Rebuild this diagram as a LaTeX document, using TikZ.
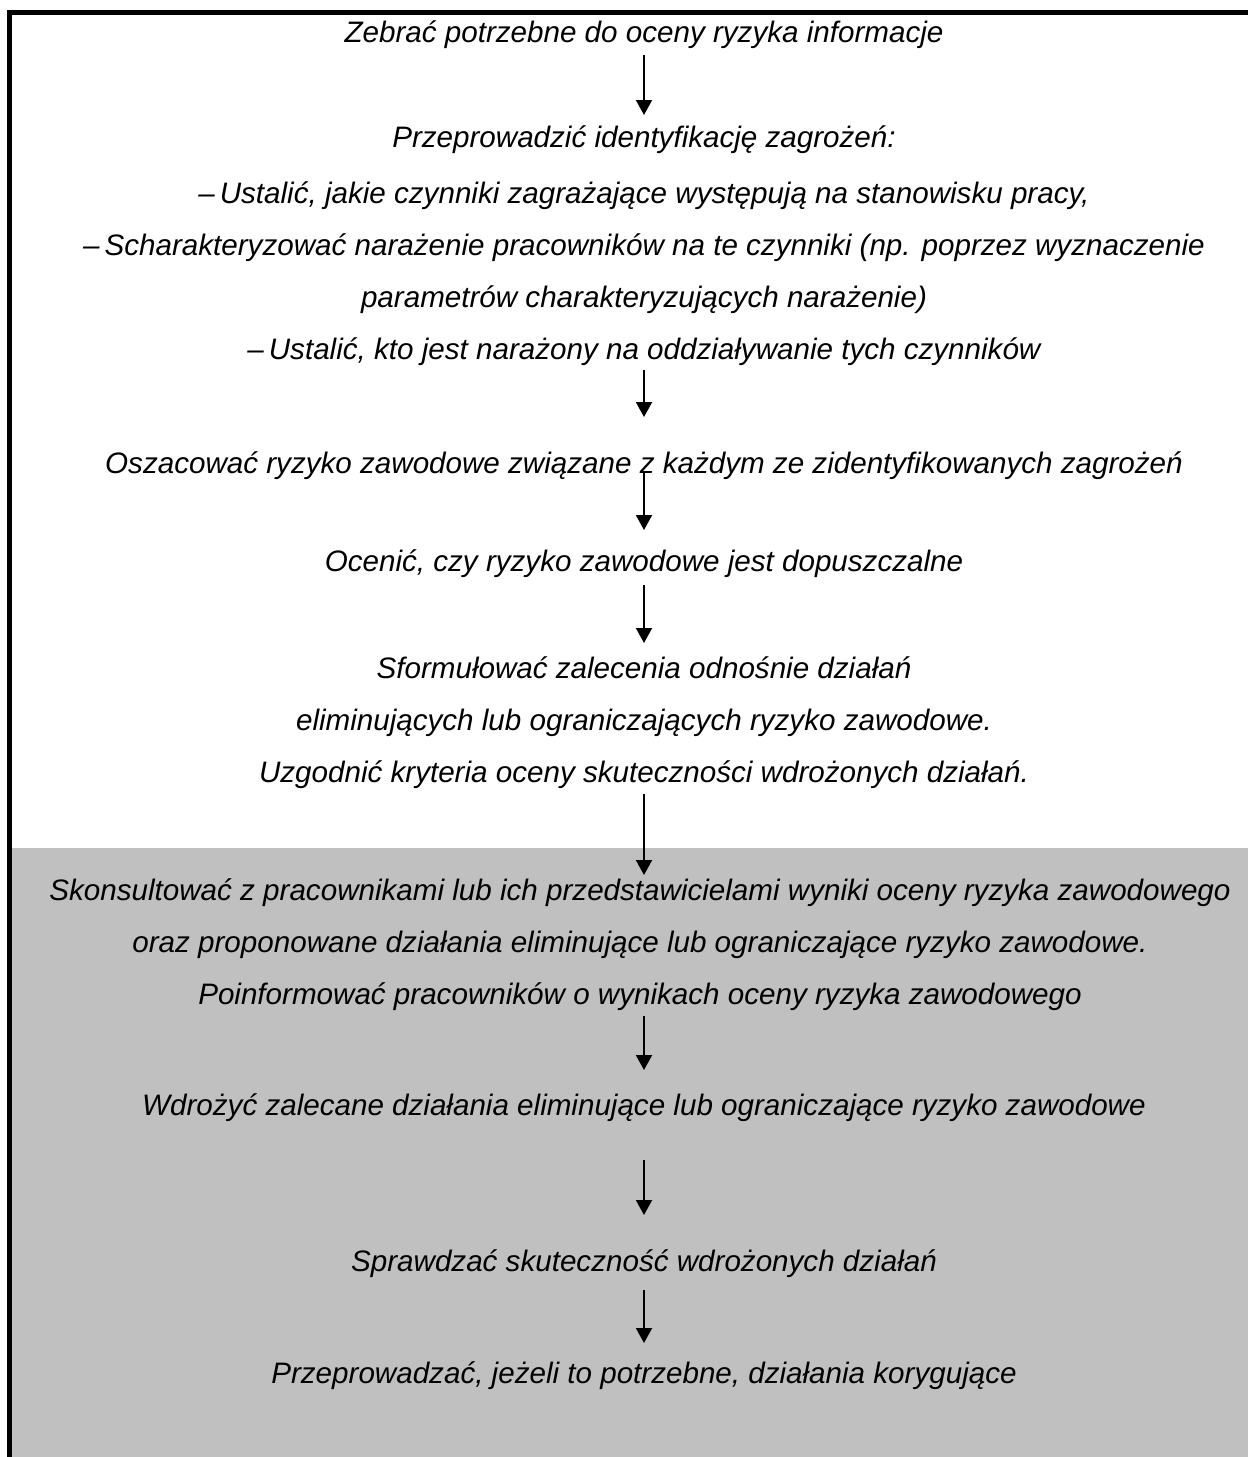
\documentclass[tikz,border=0pt]{standalone}
\usepackage{fontspec}
\setmainfont{Liberation Sans}
\usetikzlibrary{arrows.meta}
\definecolor{boxgray}{RGB}{192,192,192}
\begin{document}
\begin{tikzpicture}[x=1pt,y=-1pt,
    stage/.style={anchor=north,align=center,inner sep=0pt,
      font=\itshape\fontsize{29.6}{52}\selectfont,
      execute at begin node=\strut,execute at end node=\strut},
    arr/.style={-{Triangle[width=16pt,length=15pt]},line width=2pt}]
  \useasboundingbox (0,0) rectangle (1248,1457);
  \fill [boxgray] (12,848) rectangle (1248,1457);
  \draw [line width=5pt] (1248,12.5) -- (9.5,12.5) -- (9.5,1457);
  \node [stage] (collect) at (644,5.6) {Zebrać potrzebne do oceny ryzyka informacje};
  \node [stage] (identify) at (644,125.6) {Przeprowadzić identyfikację zagrożeń:\\[4pt]
    –\,Ustalić, jakie czynniki zagrażające występują na stanowisku pracy,\\
    –\,Scharakteryzować narażenie pracowników na te czynniki (np. poprzez wyznaczenie\\
    parametrów charakteryzujących narażenie)\\
    –\,Ustalić, kto jest narażony na oddziaływanie tych czynników};
  \node [stage] (estimate) at (644,436.6) {Oszacować ryzyko zawodowe związane z każdym ze zidentyfikowanych zagrożeń};
  \node [stage] (assess) at (644,534.6) {Ocenić, czy ryzyko zawodowe jest dopuszczalne};
  \node [stage] (recommend) at (644,656.6) {Sformułować zalecenia odnośnie działań\\
    eliminujących lub ograniczających ryzyko zawodowe.\\
    Uzgodnić kryteria oceny skuteczności wdrożonych działań.};
  \node [stage] (consult) at (640,878.6) {Skonsultować z pracownikami lub ich przedstawicielami wyniki oceny ryzyka zawodowego\\
    oraz proponowane działania eliminujące lub ograniczające ryzyko zawodowe.\\
    Poinformować pracowników o wynikach oceny ryzyka zawodowego};
  \node [stage] (implement) at (644,1078.6) {Wdrożyć zalecane działania eliminujące lub ograniczające ryzyko zawodowe};
  \node [stage] (verify) at (644,1234.6) {Sprawdzać skuteczność wdrożonych działań};
  \node [stage] (correct) at (644,1346.6) {Przeprowadzać, jeżeli to potrzebne, działania korygujące};
  \draw [arr] ([yshift=2.6pt]collect.south) -- ([yshift=10.6pt]identify.north);
  \draw [arr] ([yshift=5pt]identify.south) -- ([yshift=19.6pt]estimate.north);
  \draw [arr] ([yshift=16.6pt]estimate.south) -- ([yshift=4.6pt]assess.north);
  \draw [arr] ([yshift=1.6pt]assess.south) -- ([yshift=13.6pt]recommend.north);
  \draw [arr] ([yshift=4pt]recommend.south) -- ([yshift=3.6pt,xshift=4pt]consult.north);
  \draw [arr] ([yshift=4pt,xshift=4pt]consult.south) -- ([yshift=8.6pt]implement.north);
  \draw [arr] ([yshift=-29.4pt]implement.south) -- ([yshift=19.6pt]verify.north);
  \draw [arr] ([yshift=-3.4pt]verify.south) -- ([yshift=3.6pt]correct.north);
\end{tikzpicture}
\end{document}
